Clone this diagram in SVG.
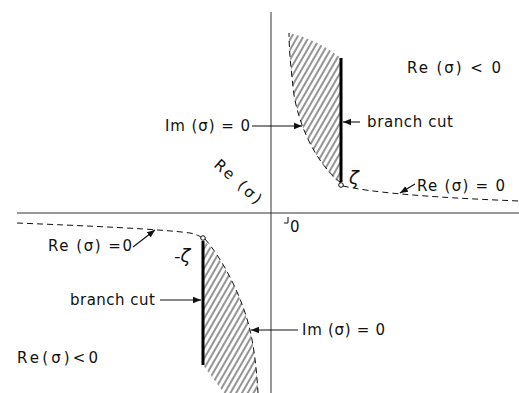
<svg xmlns="http://www.w3.org/2000/svg" width="519" height="393" viewBox="0 0 519 393">
<defs>
<style>
.lbl{font-family:"DejaVu Sans","Liberation Sans",sans-serif;font-size:15px;fill:#111}
.axis{stroke:#333;stroke-width:1;fill:none}
.cut{stroke:#000;stroke-width:3;fill:none}
.dash{stroke:#111;stroke-width:1;fill:none;stroke-dasharray:6 4}
.arr{stroke:#111;stroke-width:1.1;fill:none;marker-end:url(#ah)}
</style>
<marker id="ah" viewBox="0 0 10 10" refX="10" refY="5" markerWidth="8" markerHeight="8" markerUnits="userSpaceOnUse" orient="auto">
<path d="M0,1 L10,5 L0,9 Z" fill="#111"/>
</marker>
<pattern id="hatch" patternUnits="userSpaceOnUse" width="5" height="10" patternTransform="rotate(30)">
<line x1="1" y1="0" x2="1" y2="10" stroke="#111" stroke-width="0.9"/>
</pattern>
</defs>
<rect width="519" height="393" fill="#fff"/>

<g id="axes">
<line class="axis" x1="271" y1="12" x2="271" y2="393"/>
<line class="axis" x1="17" y1="213" x2="519" y2="213"/>
<path d="M284,223 L288,223 L288,217" stroke="#111" stroke-width="1" fill="none"/>
<text class="lbl" x="290" y="232">0</text>
</g>

<g id="upper-region">
<path d="M289,33 Q315,38 341,58 L341,185 C318,165 300,130 294,95 C291,70 289,50 289,33 Z" fill="url(#hatch)"/>
<line class="cut" x1="341" y1="58" x2="341" y2="182"/>
<circle cx="341" cy="185" r="2.3" fill="#fff" stroke="#111" stroke-width="1"/>
<text class="lbl" x="349" y="184" style="font-size:18px;font-style:italic">ζ</text>
</g>

<g id="lower-region">
<path d="M204,240 C225,262 243,300 250,330 C255,352 257,375 258,393 L224,393 L203,365 Z" fill="url(#hatch)"/>
<line class="cut" x1="203" y1="241" x2="203" y2="365"/>
<circle cx="203" cy="238" r="2.3" fill="#fff" stroke="#111" stroke-width="1"/>
<text class="lbl" x="174" y="262" style="font-size:18px;font-style:italic">-ζ</text>
</g>

<g id="connectors">
<path class="dash" d="M341,183 C318,165 300,130 294,95 C291,70 289,50 289,33"/>
<path class="dash" d="M343,186 C370,192 420,197 519,201"/>
<path class="dash" d="M205,239 C225,262 243,300 250,330 C255,352 257,375 258,393"/>
<path class="dash" d="M17,223 C90,226 160,229 190,233 C196,234 199,236 201,237"/>
<line class="arr" x1="252" y1="126" x2="302" y2="126"/>
<line class="arr" x1="360" y1="122" x2="343" y2="122"/>
<line class="arr" x1="415" y1="184" x2="400" y2="193"/>
<line class="arr" x1="133" y1="247" x2="155" y2="230"/>
<line class="arr" x1="160" y1="300" x2="201" y2="300"/>
<line class="arr" x1="298" y1="330" x2="251" y2="330"/>
</g>

<g id="labels">
<text class="lbl" x="407" y="73" textLength="94">Re (σ)  &lt; 0</text>
<text class="lbl" x="367" y="127" textLength="86">branch cut</text>
<text class="lbl" x="165" y="131" textLength="85">Im (σ) = 0</text>
<text class="lbl" x="417" y="191" textLength="88">Re (σ) = 0</text>
<text class="lbl" x="0" y="0" transform="translate(213,166) rotate(42)" textLength="58">Re (σ)</text>
<text class="lbl" x="48" y="251" textLength="84">Re (σ) =0</text>
<text class="lbl" x="70" y="305" textLength="85">branch cut</text>
<text class="lbl" x="302" y="335" textLength="83">Im (σ) = 0</text>
<text class="lbl" x="17" y="363" textLength="81">Re(σ)&lt;0</text>
</g>
</svg>
